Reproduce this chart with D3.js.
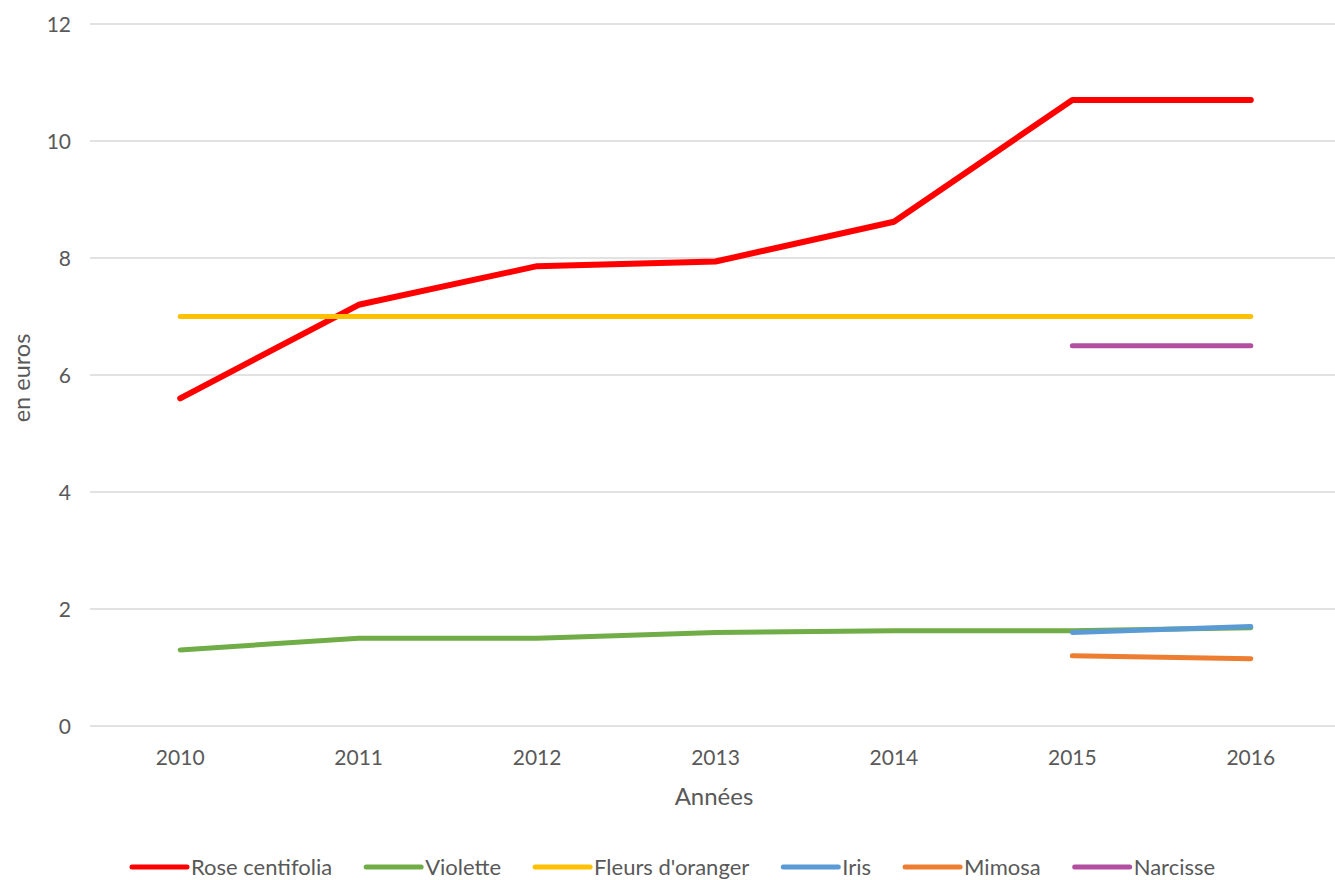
<!DOCTYPE html>
<html>
<head>
<meta charset="utf-8">
<script src="https://cdn.jsdelivr.net/npm/d3@7"></script>
<style>
  body { margin: 0; background: #fff; }
  text { font-family: Lato, "Open Sans", sans-serif; fill: #595959; }
</style>
</head>
<body>
<svg id="chart" width="1335" height="880"></svg>
<script>
// years on the x axis
const years = ["2010", "2011", "2012", "2013", "2014", "2015", "2016"];
const yTicks = [0, 2, 4, 6, 8, 10, 12];

// series values (null = no data)
const roseValues = [5.6, 7.2, 7.86, 7.94, 8.62, 10.7, 10.7];
const violetteValues = [1.3, 1.5, 1.5, 1.6, 1.63, 1.63, 1.68];
const orangerValues = [7, 7, 7, 7, 7, 7, 7];
const irisValues = [null, null, null, null, null, 1.6, 1.7];
const mimosaValues = [null, null, null, null, null, 1.2, 1.15];
const narcisseValues = [null, null, null, null, null, 6.5, 6.5];

const seriesNames = ["Rose centifolia", "Violette", "Fleurs d'oranger", "Iris", "Mimosa", "Narcisse"];
const seriesColors = ["#ff0000", "#70ad47", "#ffc000", "#5b9bd5", "#ed7d31", "#b24fa0"];
const seriesValues = [roseValues, violetteValues, orangerValues, irisValues, mimosaValues, narcisseValues];

const svg = d3.select("#chart");

// plot area
const plotLeft = 91, plotRight = 1340, plotTop = 24, plotBottom = 726;

const x = d3.scaleBand().domain(years).range([plotLeft, plotRight]);
const y = d3.scaleLinear().domain([0, 12]).range([plotBottom, plotTop]);

// horizontal gridlines
svg.append("g").selectAll("line")
  .data(yTicks)
  .join("line")
  .attr("x1", plotLeft - 1)
  .attr("x2", 1335)
  .attr("y1", d => y(d))
  .attr("y2", d => y(d))
  .attr("stroke", "#d9d9d9")
  .attr("stroke-width", 1.5);

// y tick labels
svg.append("g").selectAll("text")
  .data(yTicks)
  .join("text")
  .attr("x", 71)
  .attr("y", d => y(d))
  .attr("dy", "0.36em")
  .attr("text-anchor", "end")
  .style("font-size", "21px")
  .text(d => d);

// x tick labels
svg.append("g").selectAll("text")
  .data(years)
  .join("text")
  .attr("x", d => x(d) + x.bandwidth() / 2)
  .attr("y", 765)
  .attr("text-anchor", "middle")
  .style("font-size", "21px")
  .text(d => d);

// axis titles
svg.append("text")
  .attr("x", 714)
  .attr("y", 805)
  .attr("text-anchor", "middle")
  .style("font-size", "24px")
  .text("Années");

svg.append("text")
  .attr("transform", "translate(30,378) rotate(-90)")
  .attr("text-anchor", "middle")
  .style("font-size", "23.5px")
  .text("en euros");

// lines
const line = d3.line()
  .defined(d => d.v !== null)
  .x(d => x(d.year) + x.bandwidth() / 2)
  .y(d => y(d.v));

seriesValues.forEach((vals, i) => {
  const pts = years.map((yr, j) => ({ year: yr, v: vals[j] }));
  svg.append("path")
    .datum(pts)
    .attr("d", line)
    .attr("fill", "none")
    .attr("stroke", seriesColors[i])
    .attr("stroke-width", i === 0 ? 6 : 5)
    .attr("stroke-linecap", "round")
    .attr("stroke-linejoin", "round");
});

// legend
let lx = 132;
const ly = 867;
seriesNames.forEach((name, i) => {
  svg.append("line")
    .attr("x1", lx)
    .attr("x2", lx + 55)
    .attr("y1", ly)
    .attr("y2", ly)
    .attr("stroke", seriesColors[i])
    .attr("stroke-width", 5)
    .attr("stroke-linecap", "round");
  const t = svg.append("text")
    .attr("x", lx + 59)
    .attr("y", ly)
    .attr("dy", "0.36em")
    .style("font-size", "22px")
    .text(name);
  lx += 59 + t.node().getComputedTextLength() + 34;
});
</script>
</body>
</html>
